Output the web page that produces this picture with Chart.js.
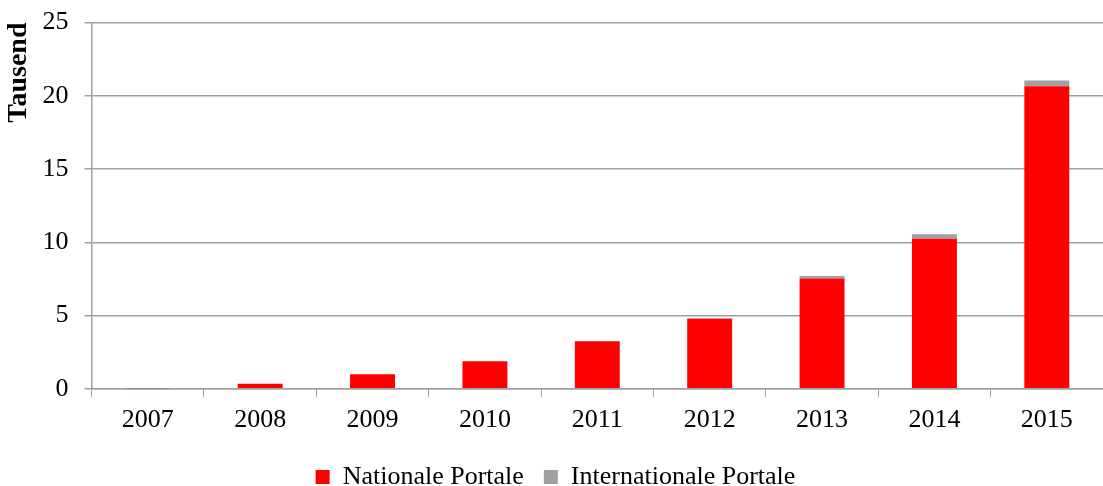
<!DOCTYPE html>
<html>
<head>
<meta charset="utf-8">
<script src="https://cdn.jsdelivr.net/npm/chart.js@4"></script>
<style>
  html, body { margin: 0; padding: 0; background: #fff; overflow: hidden; }
  #wrap { width: 1103px; height: 486px; }
</style>
</head>
<body>
<div id="wrap"><canvas id="grafico"></canvas></div>
<script>
const jahre = ['2007', '2008', '2009', '2010', '2011', '2012', '2013', '2014', '2015'];
const nationale = [0.03, 0.34, 1.0, 1.88, 3.24, 4.78, 7.52, 10.24, 20.65];
const internationale = [0.0, 0.0, 0.0, 0.0, 0.02, 0.04, 0.18, 0.31, 0.39];
const yTicks = [0, 5, 10, 15, 20, 25];

const schrift = "'Liberation Serif', 'Times New Roman', serif";

new Chart(document.getElementById('grafico'), {
    type: 'bar',
    data: {
        labels: jahre,
        datasets: [{
            label: 'Nationale Portale',
            data: nationale,
            backgroundColor: '#ff0000',
            categoryPercentage: 1,
            barPercentage: 0.4
        }, {
            label: 'Internationale Portale',
            data: internationale,
            backgroundColor: '#a0a0a0',
            categoryPercentage: 1,
            barPercentage: 0.4
        }]
    },
    options: {
        responsive: true,
        maintainAspectRatio: false,
        animation: false,
        layout: { padding: { left: 2, right: -6, top: 0, bottom: -14 } },
        plugins: {
            legend: {
                position: 'bottom',
                labels: {
                    font: { family: schrift, size: 26 },
                    color: '#000',
                    boxWidth: 14,
                    boxHeight: 14,
                    padding: 20,
                    useBorderRadius: false
                }
            },
            tooltip: { enabled: false }
        },
        scales: {
            x: {
                stacked: true,
                grid: {
                    display: true,
                    drawOnChartArea: false,
                    tickLength: 8,
                    color: '#a0a0a0',
                    offset: true
                },
                border: { color: '#a0a0a0', width: 1.5 },
                ticks: {
                    font: { family: schrift, size: 26 },
                    color: '#000',
                    padding: 8
                }
            },
            y: {
                stacked: true,
                min: 0,
                max: 25,
                afterBuildTicks: (axis) => { axis.ticks = yTicks.map(v => ({ value: v })); },
                grid: {
                    color: '#a0a0a0',
                    lineWidth: 1.5,
                    tickLength: 7
                },
                border: { color: '#a0a0a0', width: 1.5 },
                ticks: {
                    font: { family: schrift, size: 26, lineHeight: 0.5 },
                    color: '#000',
                    padding: 16
                },
                title: {
                    display: true,
                    text: 'Tausend',
                    align: 'end',
                    font: { family: schrift, size: 28, weight: 'bold' },
                    color: '#000',
                    padding: { top: 0, bottom: -9 }
                }
            }
        }
    }
});
</script>
</body>
</html>
